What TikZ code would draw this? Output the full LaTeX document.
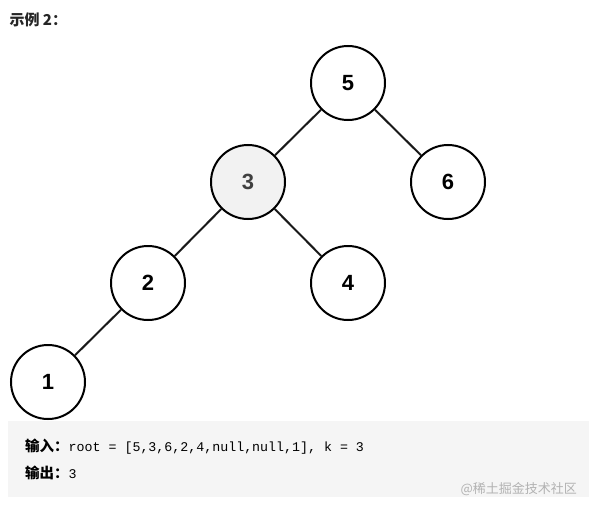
\documentclass[tikz,border=0pt]{standalone}
\usepackage{fontspec}
\setmainfont{Liberation Sans}
\setmonofont{Liberation Mono}
\newfontfamily\cjk{Noto Sans CJK SC}
\begin{document}
\begin{tikzpicture}[x=1pt,y=-1pt,
  tn/.style={circle,draw=black,line width=2pt,minimum size=74pt,inner sep=0pt,fill=white,font=\fontsize{22}{24}\selectfont\bfseries},
  edge/.style={line width=2pt,draw=black!90}]
\useasboundingbox (0,0) rectangle (589,511);
\fill[fill=white] (0,0) rectangle (589,511);
\node[anchor=west,font=\cjk\fontsize{15}{17}\selectfont\bfseries,text=black!85] (title) at (6,20) {示例 2：};
\node[tn] (n5) at (348,83) {5};
\node[tn,fill=black!5,text=black!75] (n3) at (248,182) {3};
\node[tn] (n6) at (448,182) {6};
\node[tn] (n2) at (148,283) {2};
\node[tn] (n4) at (348,283) {4};
\node[tn] (n1) at (48,382) {1};
\draw[edge] (n5) -- (n3);
\draw[edge] (n5) -- (n6);
\draw[edge] (n3) -- (n2);
\draw[edge] (n3) -- (n4);
\draw[edge] (n2) -- (n1);
\fill[black!4] (8,421) rectangle (589,497);
\node[anchor=west,inner sep=0pt] (in) at (25,447) {{\cjk\fontsize{14.5}{16}\selectfont\bfseries 输入：}{\ttfamily\fontsize{13.3}{15}\selectfont root = [5,3,6,2,4,null,null,1], k = 3}};
\node[anchor=west,inner sep=0pt] (out) at (25,473) {{\cjk\fontsize{14.5}{16}\selectfont\bfseries 输出：}{\ttfamily\fontsize{13.3}{15}\selectfont 3}};
\node[anchor=east,inner sep=0pt,text=black!30,font=\cjk\fontsize{13}{15}\selectfont] (wm) at (577,489) {@稀土掘金技术社区};
\end{tikzpicture}
\end{document}
